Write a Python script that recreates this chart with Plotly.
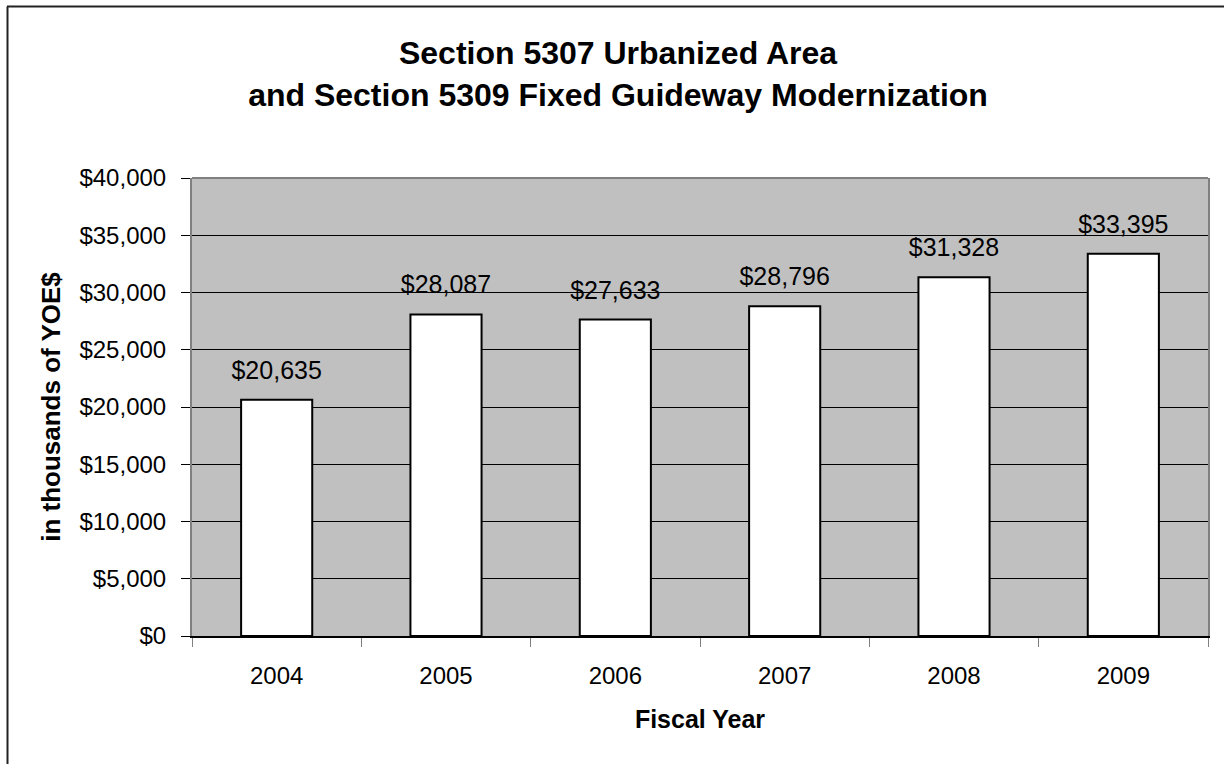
import plotly.graph_objects as go

years = ["2004", "2005", "2006", "2007", "2008", "2009"]
values = [20635, 28087, 27633, 28796, 31328, 33395]
labels = [f"${v:,}" for v in values]
title_lines = ["Section 5307 Urbanized Area", "and Section 5309 Fixed Guideway Modernization"]
y_title = "in thousands of YOE$"
x_title = "Fiscal Year"

FONT = "Liberation Sans, Arial, sans-serif"
W, H = 1224, 764
L, R, T, B = 192, 16, 178, 128
pw, ph = W - L - R, H - T - B

def px_x(p):
    return (p - L) / pw

def px_y(p):
    return (H - B - p) / ph

fig = go.Figure()
fig.add_trace(go.Bar(
    x=years, y=values, width=0.42,
    marker=dict(color="white", line=dict(color="black", width=2)),
    hoverinfo="skip",
))
fig.add_trace(go.Scatter(
    x=years, y=values, mode="markers+text", text=labels,
    textposition="top center",
    textfont=dict(family=FONT, size=25, color="black"),
    marker=dict(size=22, color="rgba(0,0,0,0)"),
    hoverinfo="skip", cliponaxis=False,
))

fig.update_layout(
    width=W, height=H,
    margin=dict(l=L, r=R, t=T, b=B, pad=0),
    paper_bgcolor="white", plot_bgcolor="#C0C0C0",
    showlegend=False,
    font=dict(family=FONT, size=24, color="black"),
    title=dict(
        text="<br>".join(title_lines),
        font=dict(family=FONT, size=32, color="black", weight="bold"),
        x=618 / W, xref="container", xanchor="center",
        y=1 - 64 / H, yref="container", yanchor="top",
    ),
    xaxis=dict(
        type="category", range=[-0.5, 5.5],
        showline=True, linecolor="black", linewidth=2,
        ticks="outside", tickson="boundaries", ticklen=9, tickcolor="#808080", tickwidth=1,
        showgrid=False, ticklabelstandoff=17,
        tickfont=dict(family=FONT, size=24),
        title=dict(text=x_title, font=dict(family=FONT, size=25, weight="bold"), standoff=23),
    ),
    yaxis=dict(
        range=[0, 40000], dtick=5000, tickprefix="$", tickformat=",",
        showline=True, linecolor="#808080", linewidth=2, mirror=True,
        ticks="outside", ticklen=9, tickcolor="black", tickwidth=1,
        showgrid=True, gridcolor="black", gridwidth=1, zeroline=False,
        ticklabelstandoff=10,
        tickfont=dict(family=FONT, size=24),
        title=dict(text=y_title, font=dict(family=FONT, size=26, weight="bold"), standoff=11),
    ),
    shapes=[
        dict(type="line", xref="paper", yref="paper", x0=0, x1=1, y0=1, y1=1,
             line=dict(color="#808080", width=2)),
        dict(type="line", xref="paper", yref="paper", x0=px_x(7), x1=px_x(1230), y0=px_y(6.5), y1=px_y(6.5),
             line=dict(color="#222222", width=2)),
        dict(type="line", xref="paper", yref="paper", x0=px_x(7.5), x1=px_x(7.5), y0=px_y(6.5), y1=px_y(770),
             line=dict(color="#222222", width=2)),
    ],
)

fig.write_html("out.html")
